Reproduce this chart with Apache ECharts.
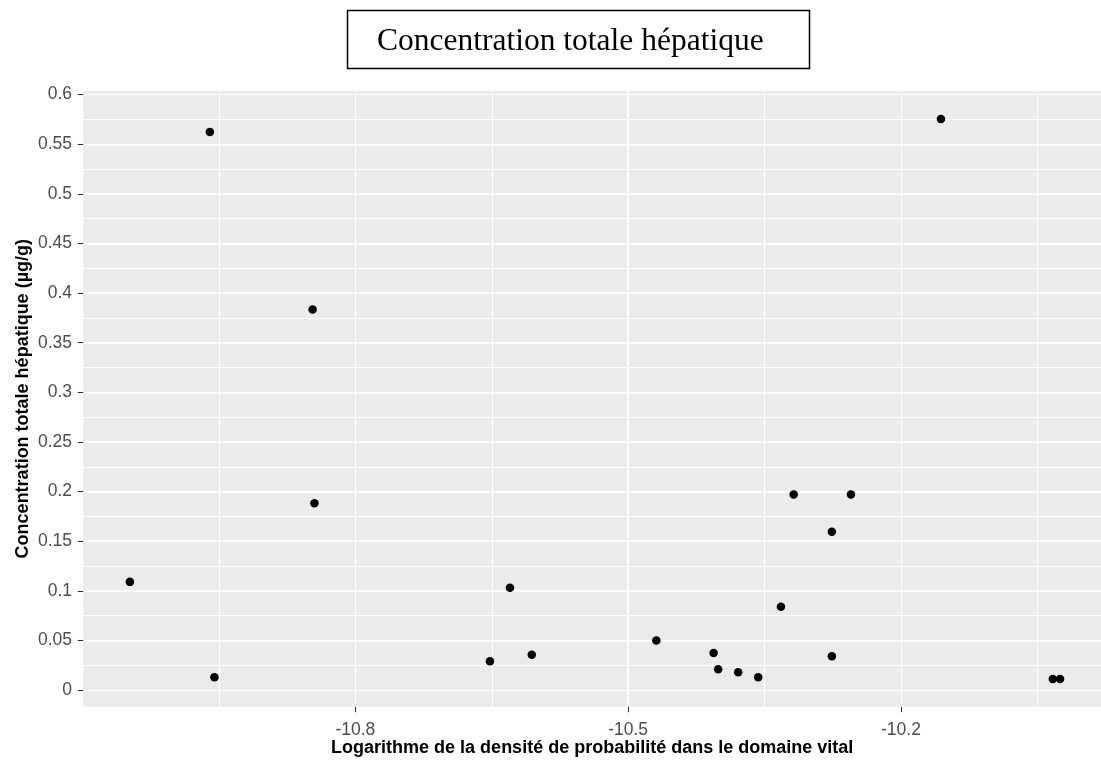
<!DOCTYPE html>
<html>
<head>
<meta charset="utf-8">
<script src="https://cdn.jsdelivr.net/npm/echarts@6/dist/echarts.min.js"></script>
<style>
  html, body { margin: 0; padding: 0; background: #ffffff; }
  #chart { width: 1101px; height: 763px; }
</style>
</head>
<body>
<div id="chart"></div>
<script>
const chartTitle = 'Concentration totale hépatique';
const xAxisTitle = 'Logarithme de la densité de probabilité dans le domaine vital';
const yAxisTitle = 'Concentration totale hépatique (µg/g)';

const xTicks = [-10.8, -10.5, -10.2];
const yTicks = [0, 0.05, 0.1, 0.15, 0.2, 0.25, 0.3, 0.35, 0.4, 0.45, 0.5, 0.55, 0.6];

const xValues = [-11.048, -10.960, -10.955, -10.847, -10.845, -10.652, -10.630, -10.606,
                 -10.469, -10.406, -10.401, -10.379, -10.357, -10.332, -10.318, -10.276,
                 -10.276, -10.255, -10.156, -10.033, -10.025];
const yValues = [0.109, 0.5625, 0.013, 0.3836, 0.1883, 0.029, 0.103, 0.0356,
                 0.050, 0.0373, 0.021, 0.0178, 0.013, 0.084, 0.197, 0.1595,
                 0.034, 0.197, 0.5756, 0.011, 0.011];

const points = xValues.map((x, i) => [x, yValues[i]]);

const xMin = -11.0992, xMax = -9.98;
const yMin = -0.0168, yMax = 0.604;

const chart = echarts.init(document.getElementById('chart'), null, { renderer: 'canvas' });

const labelFont = { fontFamily: 'Liberation Sans, Arial, sans-serif', fontSize: 17.5, color: '#4d4d4d' };
const nameFont = { fontFamily: 'Liberation Sans, Arial, sans-serif', fontSize: 18, fontWeight: 'bold', color: '#000000' };

chart.setOption({
  animation: false,
  backgroundColor: '#ffffff',
  title: {
    text: chartTitle,
    left: 377,
    top: 26,
    padding: 0,
    textStyle: { fontFamily: 'Liberation Serif, Times New Roman, serif', fontSize: 31.5, fontWeight: 'normal', color: '#000000' }
  },
  graphic: [{
    type: 'rect',
    silent: true,
    z: -1,
    shape: { x: 347.5, y: 10.5, width: 462, height: 58 },
    style: { fill: '#ffffff', stroke: '#000000', lineWidth: 1.5 }
  }],
  grid: {
    left: 83.3, top: 90.7, right: 0, bottom: 56.3,
    show: true, backgroundColor: '#EBEBEB', borderWidth: 0,
    containLabel: false, outerBoundsMode: 'none'
  },
  xAxis: [{
    type: 'value', min: xMin, max: xMax, minInterval: 0.3, maxInterval: 0.3, position: 'bottom',
    name: xAxisTitle, nameLocation: 'middle', nameGap: 32, nameMoveOverlap: false, nameTextStyle: nameFont,
    axisLine: { show: false, onZero: true, onZeroAxisIndex: 2 },
    axisTick: { show: true, inside: false, customValues: xTicks, length: 5.5, lineStyle: { color: '#333333', width: 1.1 } },
    axisLabel: Object.assign({ show: true, customValues: xTicks, margin: 14 }, labelFont),
    splitLine: { show: true, showMinLine: false, showMaxLine: false, lineStyle: { color: '#ffffff', width: 1.7 } },
    z: 2
  }, {
    type: 'value', min: xMin, max: xMax, minInterval: 0.15, maxInterval: 0.15, position: 'bottom',
    axisLine: { show: false, onZero: false }, axisTick: { show: false }, axisLabel: { show: false },
    splitLine: { show: true, showMinLine: false, showMaxLine: false, lineStyle: { color: '#ffffff', width: 1 } },
    z: 1
  }],
  yAxis: [{
    type: 'value', min: yMin, max: yMax, minInterval: 0.05, maxInterval: 0.05, position: 'left',
    name: yAxisTitle, nameLocation: 'middle', nameGap: 51, nameMoveOverlap: false, nameTextStyle: nameFont,
    axisLine: { show: false, onZero: false },
    axisTick: { show: true, customValues: yTicks, length: 5.5, lineStyle: { color: '#333333', width: 1.1 } },
    axisLabel: Object.assign({ show: true, customValues: yTicks, margin: 11.3 }, labelFont),
    splitLine: { show: true, showMinLine: false, showMaxLine: false, lineStyle: { color: '#ffffff', width: 1.7 } },
    z: 2
  }, {
    type: 'value', min: yMin, max: yMax, minInterval: 0.025, maxInterval: 0.025, position: 'left',
    axisLine: { show: false, onZero: false }, axisTick: { show: false }, axisLabel: { show: false },
    splitLine: { show: true, showMinLine: false, showMaxLine: false, lineStyle: { color: '#ffffff', width: 1 } },
    z: 1
  }, {
    type: 'value', min: 0, max: 1, position: 'left', show: false,
    axisLine: { show: false, onZero: false }, axisTick: { show: false }, axisLabel: { show: false },
    splitLine: { show: false }
  }],
  series: [{
    type: 'scatter',
    xAxisIndex: 0, yAxisIndex: 0,
    data: points,
    symbol: 'circle',
    symbolSize: 8.5,
    itemStyle: { color: '#000000', opacity: 1 },
    emphasis: { disabled: true },
    z: 5
  }]
});
</script>
</body>
</html>
